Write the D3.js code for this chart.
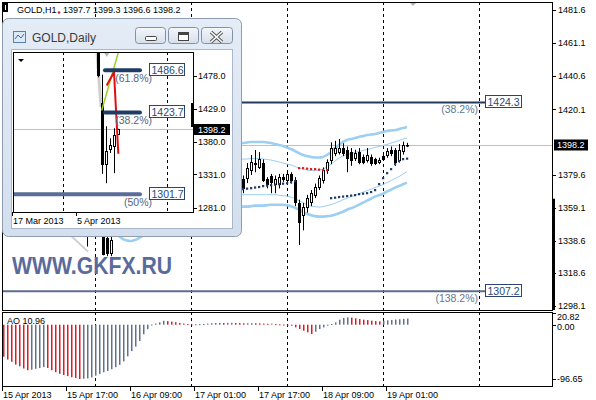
<!DOCTYPE html>
<html><head><meta charset="utf-8">
<script src="https://cdn.jsdelivr.net/npm/d3@7"></script>
<style>
body{margin:0;background:#fff;}
svg{display:block;}
text{font-family:"Liberation Sans",Arial,sans-serif;}
</style></head>
<body><svg id="c" width="596" height="400"></svg>
<script>
// ---------------- DATA ----------------
const symbolTitle = "GOLD,H1";
const lastOHLC = ["1397.7","1399.3","1396.6","1398.2"];
const currentPrice = 1398.2;

// H1 candles, bar index starts at candleStart (bar 0 = 15 Apr 2013 01:00)
const candleStart = 20;
const opens = [1352,1348,1343,1347,1345,1350,1340,1331,1342,1348,1354,1357,1360,1366,1364,1369,1375,1372,1374,1380,1378,1381,1379,1374,1376,1373,1375,1374,1372,1376,1378,1377,1382,1380,1383,1381,1378,1380,1379,1375,
 1377,1377.4,1382.4,1387,1384,1386.7,1377,1379,1374,1374,1378,1376,1380,1376,1362,1354.5,1359.5,1362.6,1367,1372,1376,1382.4,1388.6,1393,1393.5,1396,1395,1393.5,1390,1393.5,1390.5,1388.6,1390.5,1389,1387.5,1391,1392,1395,1394.8,1388.6,1394,1397.7];
const highs = [1356,1350,1350,1352,1353,1352,1342,1342,1350,1356,1360,1362,1368,1372,1370,1378,1380,1376,1383,1385,1382,1384,1381,1378,1379,1377,1378,1376,1377,1380,1381,1383,1386,1384,1387,1383,1382,1384,1381,1379,
 1379,1386.7,1391.7,1394.8,1393.5,1389,1378,1380,1379,1380,1380,1382,1381,1378,1364,1362,1367,1370,1374,1379,1384,1389,1399.5,1400.5,1401.6,1399,1397,1396,1395,1396,1392,1396,1392,1390,1390,1392,1396,1397,1396,1398.5,1400,1399.3];
const lows = [1345,1335,1342,1343,1344,1329.5,1329,1329,1341.5,1346,1351,1353,1358,1362,1360,1367,1370,1366,1372,1376,1373,1377,1372,1370,1371,1369,1372,1370,1369,1374,1375,1376,1379,1377,1380,1376,1375,1377,1372,1371,
 1368,1374.3,1379.3,1381,1383,1375,1371,1368,1368,1371,1375,1374,1374,1360,1335.9,1345,1356,1360,1365,1370,1374,1380,1386,1391,1392,1391,1381,1385,1388,1386,1386,1387,1385,1385.5,1386,1388,1390,1391,1385,1387,1392,1396.6];
const closes = [1348,1343,1347,1345,1350,1330.5,1331,1339,1348,1354,1357,1360,1366,1364,1369,1375,1372,1374,1380,1378,1381,1379,1374,1376,1373,1375,1374,1372,1376,1378,1377,1382,1380,1383,1381,1378,1380,1379,1375,1377,
 1371,1383.6,1387.5,1386,1389,1376.2,1374,1375,1377,1378,1377,1380,1376,1362.6,1350,1359.5,1365,1368,1372,1377.5,1382.5,1387.5,1396,1396,1396,1393,1390,1388.6,1393,1387.5,1387.5,1391.7,1386.7,1387,1388.5,1389,1394,1393,1387.5,1394.8,1398,1398.2];

// Bollinger-type bands
const upperStart = 59;
const upperThick = [1399.0,1399.1,1399.5,1399.8,1399.8,1399.8,1399.8,1399.5,1399.1,1398.5,1397.9,1397.3,1396.4,1395.4,1394.2,1392.9,1391.7,1391.1,1390.5,1390.2,1390.2,1390.5,1391.7,1393.6,1396.0,1397.9,1399.8,1401.0,1401.6,1402.2,1402.9,1403.5,1404.1,1404.4,1404.7,1405.3,1406.0,1406.6,1406.9,1407.2,1407.8,1408.4,1409.1];
const upperThin = [1389.0,1389.2,1389.2,1389.5,1389.5,1389.5,1389.2,1388.9,1388.6,1388.0,1387.4,1386.7,1386.1,1385.5,1384.6,1383.6,1383.0,1382.4,1382.1,1382.1,1382.4,1383.0,1384.3,1386.1,1388.0,1389.8,1391.1,1392.0,1392.6,1393.3,1393.9,1394.5,1395.1,1395.7,1396.4,1397.0,1397.6,1398.2,1399.1,1399.8,1400.7,1401.6,1402.2];
const lowerThin = [1367.1,1367.1,1367.1,1367.1,1367.1,1367.1,1367.1,1367.1,1367.1,1367.1,1366.8,1366.5,1366.2,1365.6,1364.6,1363.4,1362.2,1360.9,1360.0,1359.7,1359.4,1359.7,1360.3,1360.9,1361.8,1362.8,1364.0,1364.9,1365.9,1366.8,1367.7,1368.7,1369.6,1370.5,1371.5,1372.4,1373.4,1374.6,1375.8,1377.1,1378.3,1379.9,1381.4];
const lowerThickStart = 28;
const lowerThick = [1344.0,1341.5,1339.6,1338.7,1338.4,1339.0,1340.2,1341.7,1343.5,1345.2,1347.0,1348.6,1350.0,1351.2,1352.3,1353.2,1354.0,1354.8,1355.5,1356.1,1356.7,1357.2,1357.6,1358.0,1358.3,1358.6,1358.9,1359.1,1359.3,1359.5,1359.6,1359.7,
 1359.7,1359.7,1360.0,1360.3,1360.3,1360.3,1360.6,1360.9,1360.9,1360.9,1360.9,1360.6,1360.0,1359.0,1357.8,1356.5,1355.3,1354.4,1353.8,1353.5,1353.5,1353.8,1354.1,1354.7,1355.6,1356.5,1357.8,1358.7,1359.7,1360.9,1362.2,1363.4,1364.6,1365.9,1366.8,1367.7,1369.0,1370.2,1371.5,1372.4,1373.6,1374.6];

// Parabolic SAR
const sarStart = 59;
const sarBelow = [1370.3,1370.6,1370.9,1371.2,1371.6,1371.9,1372.5,1372.8,1373.1,1373.4,1373.7,1374.0,1374.3,1374.9,1375.6,
 null,null,null,null,null,null,null,null,
 1365.0,1365.3,1365.7,1366.0,1366.3,1366.6,1366.9,1367.5,1367.8,1368.1,1368.8,1370.0,1373.7,1377.4,1380.5,1383.0,1386.1,1388.0,1389.2,1389.5];
const sarAbove = [null,null,null,null,null,null,null,null,null,null,null,null,null,null,null,
 1383.6,1383.6,1383.3,1383.0,1383.0,1382.7,1382.4,1382.4,
 null,null,null,null,null,null,null,null,null,null,null,null,null,null,null,null,null,null,null,null];

// Awesome Oscillator, bars 0..101
const aoValues = [-57,-62,-66,-71,-74,-78,-81,
 -80,-78.5,-77,-75.5,
 -77,-81,-84.5,-87.5,-89.5,-91.5,-93.5,-95,-96.65,
 -96.2,-95.6,-93.8,-90.7,-87.7,-84.7,-82.3,-79.2,-75.6,-71.4,-65.3,-56.3,-47,-39,-29,-17,-7.9,
 0.4,2.0,4.0,7.0,6.4,5.5,4.4,3.2,2.0,1.0,
 0.6,0.8,1.0,1.3,2.0,2.6,3.0,3.2,3.0,3.2,3.4,3.1,2.9,2.5,2.7,2.8,2.6,2.3,2.0,1.6,1.8,1.0,0.6,0.3,-0.5,
 -1.8,-4.7,-7.7,-10.7,-13.6,-16.6,
 -12.5,-7.7,-4.7,-1.8,1.2,4.2,8.9,11.9,13.0,
 12.5,11.3,10.1,8.9,8.3,7.1,6.5,5.9,
 7.0,7.8,8.5,9.2,9.8,10.4,10.96];
const aoLabel = "AO 10.96";
const aoAxisLabels = ["20.82","0.00","-96.65"];
const aoAxisValues = [20.82,0,-96.65];
const aoUpColor = "#62708f";
const aoDownColor = "#dc1c24";

// price axis
const priceTicks = [1481.6,1461.1,1440.6,1420.1,1379.6,1359.1,1338.6,1318.6,1298.1];
// time axis
const timeBars = [0,16,32,48,64,80,96];
const timeLabels = ["15 Apr 2013","15 Apr 17:00","16 Apr 09:00","17 Apr 01:00","17 Apr 17:00","18 Apr 09:00","19 Apr 01:00"];
const gridBars = [23,47,71,95,119];

// Fibonacci levels on H1 chart
const fibPrices = [1424.3,1307.2];
const fibTexts = ["1424.3","1307.2"];
const fibPcts = ["(38.2%)","(138.2%)"];
const fibColors = ["#243a5c","#5b6c8c"];
const fibEndBar = 120.5;
const grayTrend = [{i:8,p:1362.6},{i:21.25,p:1331.8}];
const watermark = "WWW.GKFX.RU";

// Daily inset (k=0 -> 5 Apr 2013)
const insetTitle = "GOLD,Daily";
const dOpen  = [1553,1581,1574,1585,1557,1564,1437,1347,1369,1373.5,1392];
const dHigh  = [1584,1587,1589,1590,1567,1566,1480,1403,1385,1400,1399.3];
const dLow   = [1540,1568,1571,1553,1553,1476,1332,1318,1363,1333,1390];
const dClose = [1581,1574,1585,1557,1564,1480,1347,1366,1375,1390,1398.2];
const insetTicks = [1478.0,1429.0,1380.0,1331.0,1281.0];
const insetTimeK = [-16,0];
const insetTimeLabels = ["17 Mar 2013","5 Apr 2013"];
const insetGridK = [-3.75,22.25];
const insetFibPrices = [1486.6,1423.7,1301.7];
const insetFibTexts = ["1486.6","1423.7","1301.7"];
const insetFibPcts = ["(61.8%)","(38.2%)","(50%)"];
const insetFibStartK = [6.75,6.75,-16.25];
const insetFibEndK = 15.5;
const insetFibColors = ["#1f3c66","#1f3c66","#5a6c99"];
const insetGreen = [{k:5.93,p:1426.5},{k:10.08,p:1513}];
const insetRed = [{k:7.17,p:1463.8},{k:9.0,p:1483.7},{k:10.08,p:1361.9}];
const insetGray = [{k:4.75,p:1512},{k:5.75,p:1432}];

// ---------------- DRAW ----------------
const svg = d3.select("#c");
const defs = svg.append("defs");
const main = {x0:2,x1:552,y0:2,y1:310};
const aoP = {x0:2,x1:552,y0:312,y1:386};

const x = d3.scaleLinear().domain([0,1]).range([3,7]);
const y = d3.scaleLinear().domain([1298.1,1481.6]).range([306,10]);
const yAO = d3.scaleLinear().domain([-96.65,20.82]).range([379,313]);

defs.append("clipPath").attr("id","clipMain").append("rect")
  .attr("x",main.x0).attr("y",main.y0).attr("width",main.x1-main.x0).attr("height",main.y1-main.y0);
defs.append("clipPath").attr("id","clipAO").append("rect")
  .attr("x",aoP.x0).attr("y",aoP.y0).attr("width",aoP.x1-aoP.x0).attr("height",aoP.y1-aoP.y0);

const gm = svg.append("g").attr("clip-path","url(#clipMain)");
gm.selectAll(null).data(gridBars).enter().append("line")
  .attr("x1",d=>Math.round(x(d))+0.5).attr("x2",d=>Math.round(x(d))+0.5)
  .attr("y1",main.y0).attr("y2",main.y1)
  .attr("stroke","#000").attr("stroke-dasharray","3,3");
gm.append("line").attr("x1",main.x0).attr("x2",main.x1)
  .attr("y1",Math.round(y(currentPrice))+0.5).attr("y2",Math.round(y(currentPrice))+0.5)
  .attr("stroke","#c0c0c0");
gm.append("line").attr("x1",x(grayTrend[0].i)).attr("y1",y(grayTrend[0].p))
  .attr("x2",x(grayTrend[1].i)).attr("y2",y(grayTrend[1].p))
  .attr("stroke","#cfcfcf").attr("stroke-width",2);

function band(start, vals, w){
  const line = d3.line().x((d,j)=>x(start+j)).y(d=>y(d)).curve(d3.curveMonotoneX);
  gm.append("path").attr("d",line(vals)).attr("fill","none")
    .attr("stroke","#9ccff0").attr("stroke-width",w);
}
band(upperStart, upperThick, 2.6);
band(lowerThickStart, lowerThick, 2.6);
band(upperStart, upperThin, 1);
band(upperStart, lowerThin, 1);

fibPrices.forEach((p,j)=>{
  gm.append("line").attr("x1",main.x0).attr("x2",x(fibEndBar))
    .attr("y1",y(p)).attr("y2",y(p)).attr("stroke",fibColors[j]).attr("stroke-width",2);
});

function drawCandles(g, xs, ys, start, O, Hh, L, C){
  const data = O.map((o,j)=>({i:start+j,o:o,h:Hh[j],l:L[j],c:C[j]}));
  g.selectAll(null).data(data).enter().append("line")
    .attr("x1",d=>Math.round(xs(d.i))+0.5).attr("x2",d=>Math.round(xs(d.i))+0.5)
    .attr("y1",d=>ys(d.h)).attr("y2",d=>ys(d.l)).attr("stroke","#000");
  g.selectAll(null).data(data).enter().append("rect")
    .attr("x",d=>Math.round(xs(d.i))-0.5)
    .attr("y",d=>Math.round(ys(Math.max(d.o,d.c)))+0.5)
    .attr("width",2)
    .attr("height",d=>Math.max(0.5,Math.round(ys(Math.min(d.o,d.c)))-Math.round(ys(Math.max(d.o,d.c)))))
    .attr("fill",d=>d.c>=d.o?"#fff":"#000").attr("stroke","#000");
}
drawCandles(gm, x, y, candleStart, opens, highs, lows, closes);

function sar(vals, color){
  const data = vals.map((v,j)=>({i:sarStart+j,v:v})).filter(d=>d.v!==null);
  gm.selectAll(null).data(data).enter().append("rect")
    .attr("x",d=>x(d.i)-1).attr("y",d=>y(d.v)-1).attr("width",2.2).attr("height",2.2)
    .attr("fill",color);
}
sar(sarBelow,"#1f3a66");
sar(sarAbove,"#e01b1b");

gm.append("text").attr("x",12).attr("y",274).text(watermark)
  .attr("font-size",23).attr("font-weight","bold").attr("fill","#596b9b")
  .attr("textLength",160).attr("lengthAdjust","spacingAndGlyphs");

fibPrices.forEach((p,j)=>{
  const bx = x(fibEndBar), by = Math.round(y(p));
  gm.append("rect").attr("x",Math.round(bx)+0.5).attr("y",by-6.5).attr("width",36).attr("height",12)
    .attr("fill","#fff").attr("stroke","#2b4470");
  gm.append("text").attr("x",bx+2.5).attr("y",by+4).text(fibTexts[j])
    .attr("font-size",10.5).attr("fill","#2b4a78");
  gm.append("text").attr("x",478).attr("y",by+11).attr("text-anchor","end").text(fibPcts[j])
    .attr("font-size",10.5).attr("fill","#66758f");
});

gm.append("path").attr("d",`M${x(102.5)-4},2 L${x(102.5)+4},2 L${x(102.5)},6 Z`).attr("fill","#b5b5b5");

svg.append("rect").attr("x",main.x0+0.5).attr("y",main.y0+0.5).attr("width",main.x1-main.x0).attr("height",main.y1-main.y0)
  .attr("fill","none").attr("stroke","#000");
svg.append("rect").attr("x",552).attr("y",y(1364.6)).attr("width",3).attr("height",main.y1-y(1364.6)).attr("fill","#000");

const ga = svg.append("g");
ga.selectAll(null).data(priceTicks).enter().append("line")
  .attr("x1",553).attr("x2",556).attr("y1",d=>Math.round(y(d))+0.5).attr("y2",d=>Math.round(y(d))+0.5).attr("stroke","#000");
ga.selectAll(null).data(priceTicks).enter().append("text")
  .attr("x",558).attr("y",d=>y(d)+3.3).text(d=>d.toFixed(1)).attr("font-size",9).attr("fill","#000");
ga.append("rect").attr("x",554).attr("y",Math.round(y(currentPrice))-5.5).attr("width",34).attr("height",11).attr("fill","#000");
ga.append("text").attr("x",557).attr("y",y(currentPrice)+3.3).text(currentPrice.toFixed(1)).attr("font-size",9).attr("fill","#fff");

svg.append("rect").attr("x",3).attr("y",3).attr("width",5).attr("height",9).attr("fill","#000");
svg.append("rect").attr("x",5).attr("y",5).attr("width",1).attr("height",5).attr("fill","#fff");
svg.append("text").attr("x",17).attr("y",13).text(symbolTitle).attr("font-size",9).attr("fill","#000");
svg.append("circle").attr("cx",59).attr("cy",12.5).attr("r",1.3).attr("fill","#e01b1b");
svg.append("text").attr("x",63).attr("y",13).text(lastOHLC.join(" ")).attr("font-size",9).attr("fill","#000");

// ---- AO pane ----
const gao = svg.append("g").attr("clip-path","url(#clipAO)");
gao.selectAll(null).data(gridBars).enter().append("line")
  .attr("x1",d=>Math.round(x(d))+0.5).attr("x2",d=>Math.round(x(d))+0.5)
  .attr("y1",aoP.y0).attr("y2",aoP.y1)
  .attr("stroke","#000").attr("stroke-dasharray","3,3");
const aoData = aoValues.map((v,i)=>({i:i,v:v,up:(i>0 && v>aoValues[i-1])}));
gao.selectAll(null).data(aoData).enter().append("rect")
  .attr("x",d=>Math.round(x(d.i)))
  .attr("y",d=>Math.min(yAO(0),yAO(d.v)))
  .attr("width",1.5)
  .attr("height",d=>Math.max(1,Math.abs(yAO(d.v)-yAO(0))))
  .attr("fill",d=>d.up?aoUpColor:aoDownColor);
svg.append("rect").attr("x",aoP.x0+0.5).attr("y",aoP.y0+0.5).attr("width",aoP.x1-aoP.x0).attr("height",aoP.y1-aoP.y0)
  .attr("fill","none").attr("stroke","#000");
svg.append("text").attr("x",7).attr("y",324).text(aoLabel).attr("font-size",9).attr("fill","#000");
const aoLabelY = [319.5,329.5,382];
aoAxisValues.forEach((v,j)=>{
  svg.append("line").attr("x1",553).attr("x2",556).attr("y1",Math.round(yAO(v))+0.5).attr("y2",Math.round(yAO(v))+0.5).attr("stroke","#000");
  svg.append("text").attr("x",557).attr("y",aoLabelY[j]).text(aoAxisLabels[j]).attr("font-size",9).attr("fill","#000");
});

timeBars.forEach((b,j)=>{
  const tx = Math.round(x(b))-1;
  svg.append("line").attr("x1",tx+0.5).attr("x2",tx+0.5).attr("y1",386).attr("y2",391).attr("stroke","#000");
  svg.append("text").attr("x",tx+1).attr("y",398).text(timeLabels[j]).attr("font-size",9).attr("fill","#000");
});

// ---------------- INSET WINDOW ----------------
const win = svg.append("g");
const grad = defs.append("linearGradient").attr("id","frameG").attr("x1",0).attr("y1",0).attr("x2",0).attr("y2",1);
grad.append("stop").attr("offset","0").attr("stop-color","#e4ecf6");
grad.append("stop").attr("offset","1").attr("stop-color","#d3dfee");
const bg = defs.append("linearGradient").attr("id","btnG").attr("x1",0).attr("y1",0).attr("x2",0).attr("y2",1);
bg.append("stop").attr("offset","0").attr("stop-color","#f4f7fb");
bg.append("stop").attr("offset","1").attr("stop-color","#d6dfe9");

win.append("rect").attr("x",2.5).attr("y",18.5).attr("width",239).attr("height",218).attr("rx",6)
  .attr("fill","url(#frameG)").attr("stroke","#8e9db2");
win.append("rect").attr("x",11.5).attr("y",49.5).attr("width",221).attr("height",179)
  .attr("fill","#fff").attr("stroke","#a9b7c8");
win.append("rect").attr("x",13.5).attr("y",31.5).attr("width",12).attr("height",11).attr("fill","#dbe8f5").attr("stroke","#5b7fae");
win.append("path").attr("d","M15,39 L18,35 L21,38 L24,34").attr("fill","none").attr("stroke","#3b6ea8");
win.append("text").attr("x",32).attr("y",42).text(insetTitle).attr("font-size",12).attr("fill","#3a3a3a");
[[135,30],[168,30],[201,31]].forEach(b=>{
  win.append("rect").attr("x",b[0]+0.5).attr("y",27.5).attr("width",b[1]).attr("height",16).attr("rx",3)
    .attr("fill","url(#btnG)").attr("stroke","#8090a6");
});
win.append("rect").attr("x",145.5).attr("y",36.5).attr("width",11).attr("height",4).attr("rx",1).attr("fill","#fff").attr("stroke","#444");
win.append("rect").attr("x",178.5).attr("y",32.5).attr("width",10).attr("height",8).attr("fill","#fff").attr("stroke","#444");
win.append("line").attr("x1",179).attr("x2",188).attr("y1",34).attr("y2",34).attr("stroke","#444").attr("stroke-width",2);
win.append("path").attr("d","M211,32 L222,42 M222,32 L211,42").attr("stroke","#555").attr("stroke-width",3.6);
win.append("path").attr("d","M211,32 L222,42 M222,32 L211,42").attr("stroke","#fff").attr("stroke-width",1.6);

const ip = {x0:13,x1:193,y0:52,y1:212};
const xi = d3.scaleLinear().domain([0,1]).range([78,82]);
const yi = d3.scaleLinear().domain([1281,1478]).range([208,76]);
defs.append("clipPath").attr("id","clipIn").append("rect")
  .attr("x",ip.x0).attr("y",ip.y0).attr("width",ip.x1-ip.x0).attr("height",ip.y1-ip.y0);
const gi = win.append("g").attr("clip-path","url(#clipIn)");
gi.selectAll(null).data(insetGridK).enter().append("line")
  .attr("x1",d=>Math.round(xi(d))+0.5).attr("x2",d=>Math.round(xi(d))+0.5)
  .attr("y1",ip.y0).attr("y2",ip.y1).attr("stroke","#000").attr("stroke-dasharray","3,3");
gi.append("line").attr("x1",ip.x0).attr("x2",ip.x1)
  .attr("y1",Math.round(yi(currentPrice))+0.5).attr("y2",Math.round(yi(currentPrice))+0.5).attr("stroke","#c0c0c0");
gi.append("line").attr("x1",xi(insetGray[0].k)).attr("y1",yi(insetGray[0].p))
  .attr("x2",xi(insetGray[1].k)).attr("y2",yi(insetGray[1].p)).attr("stroke","#d0d0d0").attr("stroke-width",3);
drawCandles(gi, xi, yi, 0, dOpen, dHigh, dLow, dClose);
const lf = d3.line().x(d=>xi(d.k)).y(d=>yi(d.p));
gi.append("path").attr("d",lf(insetGreen)).attr("fill","none").attr("stroke","#9bd22a").attr("stroke-width",1.5);
gi.append("path").attr("d",lf(insetRed)).attr("fill","none").attr("stroke","#e01010").attr("stroke-width",2);
insetFibPrices.forEach((p,j)=>{
  gi.append("line").attr("x1",xi(insetFibStartK[j])).attr("x2",xi(insetFibEndK))
    .attr("y1",yi(p)).attr("y2",yi(p)).attr("stroke",insetFibColors[j]).attr("stroke-width",4)
    .attr("stroke-linecap","round");
});
insetFibPrices.forEach((p,j)=>{
  const by = Math.round(yi(p));
  gi.append("text").attr("x",152).attr("y",by+11.5).attr("text-anchor","end").text(insetFibPcts[j])
    .attr("font-size",10.5).attr("fill","#56657e");
  gi.append("rect").attr("x",149.5).attr("y",by-6.5).attr("width",35).attr("height",12)
    .attr("fill","#fff").attr("stroke","#2b4470");
  gi.append("text").attr("x",151.5).attr("y",by+4).text(insetFibTexts[j])
    .attr("font-size",10.5).attr("fill","#2b4a78");
});
gi.append("path").attr("d",`M${xi(7.2)-3},${ip.y0} L${xi(7.2)+3},${ip.y0} L${xi(7.2)},${ip.y0+5} Z`).attr("fill","#b5b5b5");
gi.append("path").attr("d",`M18,59 L24,59 L21,62 Z`).attr("fill","#000");
win.append("rect").attr("x",ip.x0+0.5).attr("y",ip.y0+0.5).attr("width",ip.x1-ip.x0).attr("height",ip.y1-ip.y0)
  .attr("fill","none").attr("stroke","#000");
win.append("rect").attr("x",191).attr("y",yi(1437.7)).attr("width",3).attr("height",yi(1401.9)-yi(1437.7)).attr("fill","#000");
win.selectAll(null).data(insetTicks).enter().append("line")
  .attr("x1",194).attr("x2",197).attr("y1",d=>Math.round(yi(d))+0.5).attr("y2",d=>Math.round(yi(d))+0.5).attr("stroke","#000");
win.selectAll(null).data(insetTicks).enter().append("text")
  .attr("x",198).attr("y",d=>yi(d)+3.3).text(d=>d.toFixed(1)).attr("font-size",9).attr("fill","#000");
win.append("rect").attr("x",193).attr("y",Math.round(yi(currentPrice))-5).attr("width",37).attr("height",11).attr("fill","#000");
win.append("text").attr("x",198).attr("y",yi(currentPrice)+3.8).text(currentPrice.toFixed(1)).attr("font-size",9).attr("fill","#fff");
insetTimeK.forEach((k,j)=>{
  const tx = Math.round(xi(k))-2;
  win.append("line").attr("x1",tx+0.5).attr("x2",tx+0.5).attr("y1",212).attr("y2",216).attr("stroke","#000");
  win.append("text").attr("x",tx+1).attr("y",224).text(insetTimeLabels[j]).attr("font-size",9).attr("fill","#000");
});
</script>
</body></html>
